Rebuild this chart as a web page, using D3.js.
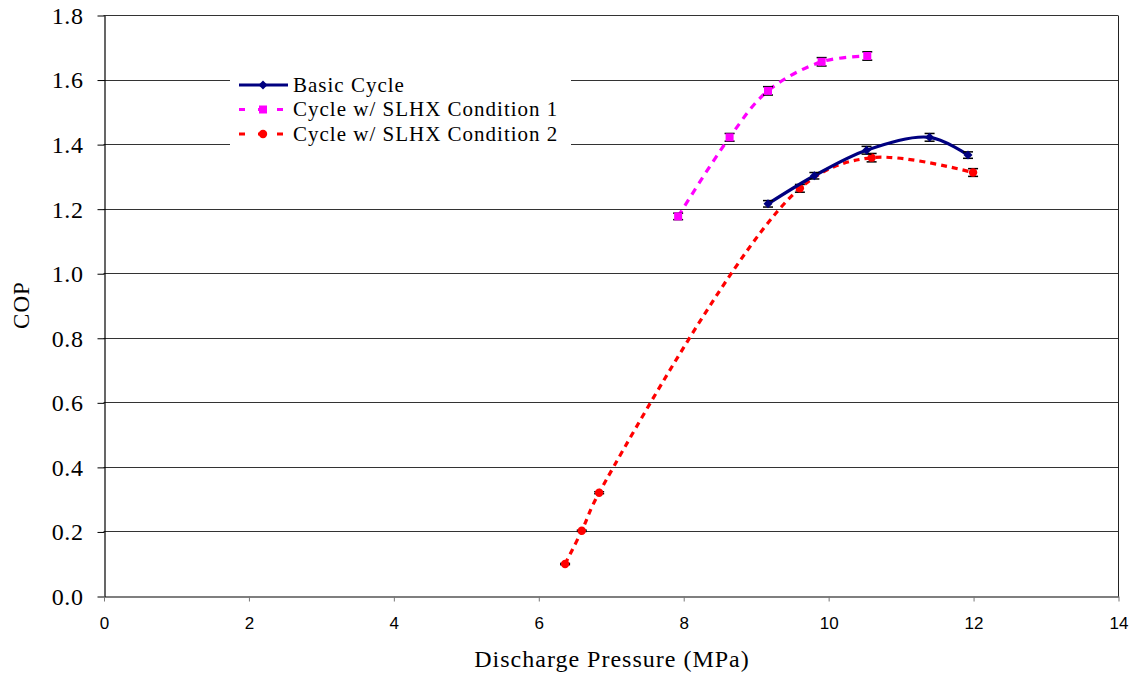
<!DOCTYPE html>
<html>
<head>
<meta charset="utf-8">
<script src="https://cdn.jsdelivr.net/npm/d3@7"></script>
<style>
  body { margin: 0; background: #fff; }
</style>
</head>
<body>
<div id="chart"></div>
<script>
/* COP vs discharge pressure, three cycles */

const height = 679,
    width = 1140,
    margin = ({ top: 15, right: 22, bottom: 83, left: 103.5 });
const SERIF = '"Liberation Serif", "Times New Roman", serif',
    SANS = '"Liberation Sans", Arial, sans-serif';

// data
const basicP = [9.17, 9.81, 10.53, 11.40, 11.93];
const basicCOP = [1.215, 1.302, 1.381, 1.421, 1.366];
const basicErr = [0.010, 0.010, 0.012, 0.012, 0.010];

const cond1P = [7.93, 8.64, 9.17, 9.91, 10.54];
const cond1COP = [1.176, 1.421, 1.565, 1.655, 1.673];
const cond1Err = [0.010, 0.012, 0.013, 0.013, 0.013];

const cond2P = [6.37, 6.60, 6.84, 9.61, 10.60, 12.00];
const cond2COP = [0.099, 0.202, 0.320, 1.263, 1.358, 1.312];
const cond2Err = [0.002, 0.002, 0.003, 0.012, 0.013, 0.012];

const xTicks = [0, 2, 4, 6, 8, 10, 12, 14];
const yTicks = [0, 0.2, 0.4, 0.6, 0.8, 1.0, 1.2, 1.4, 1.6, 1.8];

const seriesNames = ["Basic Cycle", "Cycle w/ SLHX Condition 1", "Cycle w/ SLHX Condition 2"];

const series = [
    { name: seriesNames[0], p: basicP, cop: basicCOP, err: basicErr, color: "#000080", dash: null, marker: "diamond" },
    { name: seriesNames[1], p: cond1P, cop: cond1COP, err: cond1Err, color: "#FF00FF", dash: "7 6", marker: "square" },
    { name: seriesNames[2], p: cond2P, cop: cond2COP, err: cond2Err, color: "#FF0000", dash: "6 5", marker: "circle" }
];

const svg = d3.select("#chart")
    .append("svg")
    .attr("width", width)
    .attr("height", height);

const x = d3.scaleLinear()
    .domain([0, 14])
    .range([margin.left, width - margin.right]);

const y = d3.scaleLinear()
    .domain([0, 1.8])
    .range([height - margin.bottom, margin.top]);

// horizontal gridlines
svg.append("g")
    .selectAll("line")
    .data(yTicks.slice(1))
    .join("line")
    .attr("x1", x(0))
    .attr("x2", x(14))
    .attr("y1", d => Math.round(y(d)) + 0.5)
    .attr("y2", d => Math.round(y(d)) + 0.5)
    .attr("stroke", "#333")
    .attr("stroke-width", 1);

// right border of plot area
svg.append("line")
    .attr("x1", Math.round(x(14)) + 0.5)
    .attr("x2", Math.round(x(14)) + 0.5)
    .attr("y1", Math.round(y(1.8)) + 0.5)
    .attr("y2", Math.round(y(0)) + 0.5)
    .attr("stroke", "#222");

// y axis
const yAxis = svg.append("g")
    .attr("transform", `translate(${Math.round(x(0)) + 0.5},0.5)`)
    .call(d3.axisLeft(y).tickValues(yTicks).tickFormat(d3.format(".1f")).tickSize(7).tickSizeOuter(0));
yAxis.select(".domain").attr("stroke", "#000").attr("stroke-width", 1.2);
yAxis.selectAll(".tick line").attr("stroke", "#000");
yAxis.selectAll(".tick text")
    .style("font-family", SERIF)
    .style("font-size", "24px")
    .style("letter-spacing", "0.6px")
    .attr("fill", "#000")
    .attr("x", -21)
    .attr("dy", "0.33em");

// x axis
const xAxis = svg.append("g")
    .attr("transform", `translate(0.5,${Math.round(y(0)) + 0.5})`)
    .call(d3.axisBottom(x).tickValues(xTicks).tickFormat(d3.format("d")).tickSize(5).tickSizeOuter(0));
xAxis.select(".domain").attr("stroke", "#000").attr("stroke-width", 1.2);
xAxis.selectAll(".tick line").attr("stroke", "#777");
xAxis.selectAll(".tick text")
    .style("font-family", SANS)
    .style("font-size", "17px")
    .attr("fill", "#000")
    .attr("y", 32)
    .attr("dy", 0);

// axis titles
svg.append("text")
    .style("font-family", SERIF)
    .style("font-size", "24px")
    .style("letter-spacing", "1px")
    .attr("text-anchor", "middle")
    .attr("x", 612)
    .attr("y", 667)
    .text("Discharge Pressure (MPa)");

svg.append("text")
    .style("font-family", SERIF)
    .style("font-size", "23px")
    .style("letter-spacing", "1px")
    .attr("text-anchor", "middle")
    .attr("transform", `translate(28.5,305) rotate(-90)`)
    .text("COP");

const line = d3.line()
    .x(d => x(d[0]))
    .y(d => y(d[1]))
    .curve(d3.curveCatmullRom.alpha(0.5));

function drawMarker(g, type, color, cx, cy) {
    if (type === "square") {
        g.append("rect").attr("x", cx - 4).attr("y", cy - 4).attr("width", 8).attr("height", 8).attr("fill", color);
    } else if (type === "circle") {
        g.append("circle").attr("cx", cx).attr("cy", cy).attr("r", 4.2).attr("fill", color);
    } else {
        g.append("path")
            .attr("d", `M${cx},${cy - 4.5}L${cx + 4.5},${cy}L${cx},${cy + 4.5}L${cx - 4.5},${cy}Z`)
            .attr("fill", color);
    }
}

// draw order: magenta, red, basic on top
for (const s of [series[1], series[2], series[0]]) {
    const pts = s.p.map((p, i) => [p, s.cop[i]]);
    const g = svg.append("g");

    g.append("path")
        .datum(pts)
        .attr("d", line)
        .attr("fill", "none")
        .attr("stroke", s.color)
        .attr("stroke-width", 3.2)
        .attr("stroke-dasharray", s.dash);

    // error bars
    pts.forEach((d, i) => {
        const cx = x(d[0]);
        const top = y(d[1] + s.err[i]), bot = y(d[1] - s.err[i]);
        g.append("line").attr("x1", cx).attr("x2", cx).attr("y1", top).attr("y2", bot).attr("stroke", "#000").attr("stroke-width", 1.2);
        g.append("line").attr("x1", cx - 5).attr("x2", cx + 5).attr("y1", top).attr("y2", top).attr("stroke", "#000").attr("stroke-width", 1.5);
        g.append("line").attr("x1", cx - 5).attr("x2", cx + 5).attr("y1", bot).attr("y2", bot).attr("stroke", "#000").attr("stroke-width", 1.5);
    });

    pts.forEach(d => drawMarker(g, s.marker, s.color, x(d[0]), y(d[1])));
}

// legend with white background
const legend = svg.append("g");
legend.append("rect")
    .attr("x", 230)
    .attr("y", 70)
    .attr("width", 341)
    .attr("height", 82)
    .attr("fill", "#fff");

series.forEach((s, i) => {
    const ly = 85 + i * 24.5;
    legend.append("line")
        .attr("x1", 239)
        .attr("x2", s.dash ? 284 : 288)
        .attr("y1", ly)
        .attr("y2", ly)
        .attr("stroke", s.color)
        .attr("stroke-width", 3)
        .attr("stroke-dasharray", s.dash ? "6 13" : null);
    drawMarker(legend, s.marker, s.color, 263, ly);
    legend.append("text")
        .style("font-family", SERIF)
        .style("font-size", "21px")
        .style("letter-spacing", "1px")
        .attr("x", 293)
        .attr("y", ly)
        .attr("dy", "0.33em")
        .attr("fill", "#000")
        .text(s.name);
});
</script>
</body>
</html>
